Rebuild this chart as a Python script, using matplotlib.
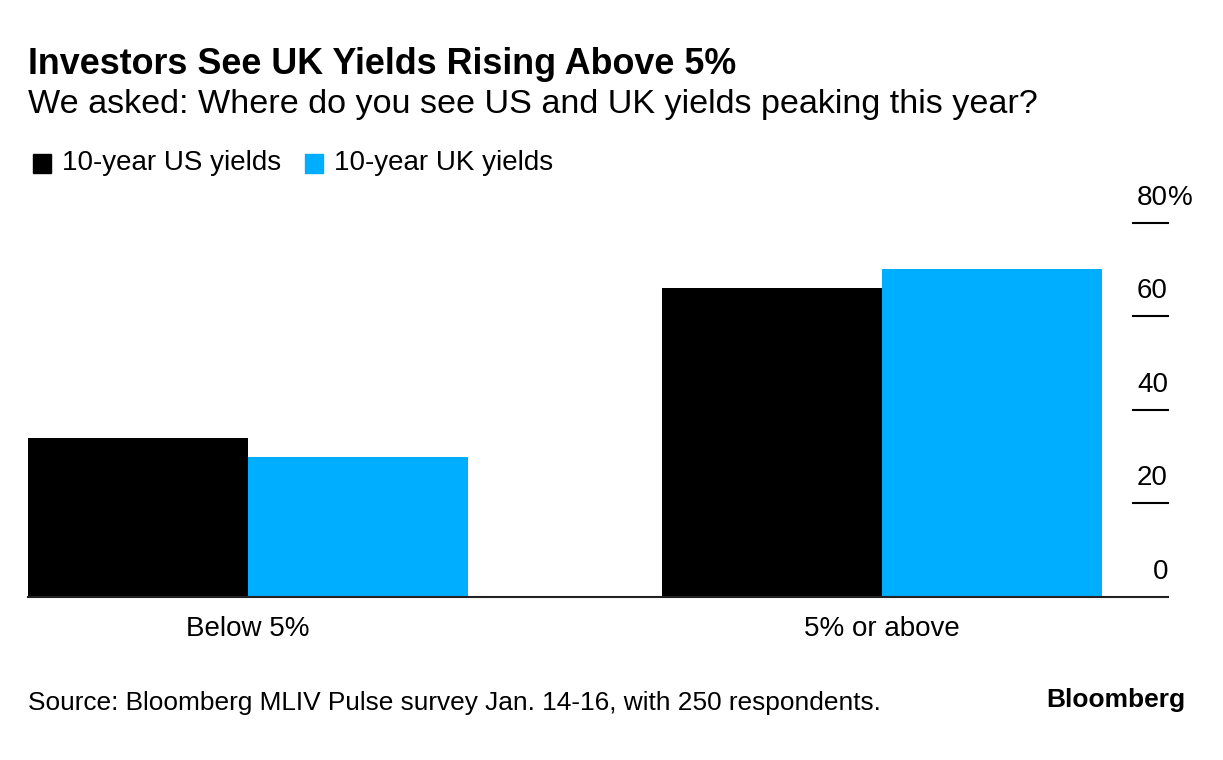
import matplotlib

matplotlib.use("Agg")
import matplotlib.pyplot as plt
import numpy as np

plt.rcParams["font.family"] = ["Liberation Sans", "DejaVu Sans"]

categories = ["Below 5%", "5% or above"]
us_yields = [34, 66]
uk_yields = [30, 70]
series_names = ["10-year US yields", "10-year UK yields"]
yticks = [0, 20, 40, 60, 80]

BLACK = "#000000"
BLUE = "#00aeff"

W, H = 1223, 760
fig = plt.figure(figsize=(W / 100, H / 100), dpi=100)
ax = fig.add_axes([28 / W, 1 - 597 / H, (1168 - 28) / W, (597 - 222.7) / H])

x = np.arange(len(categories))
w = 0.347
ax.bar(x - w / 2, us_yields, w, color=BLACK, label=series_names[0])
ax.bar(x + w / 2, uk_yields, w, color=BLUE, label=series_names[1])
ax.set_xlim(-w, 1.451)
ax.set_ylim(0, 80)

for s in ["top", "left", "right"]:
    ax.spines[s].set_visible(False)
ax.spines["bottom"].set_color("#222222")
ax.spines["bottom"].set_linewidth(1.5)
ax.set_yticks([])
ax.set_xticks(x)
ax.set_xticklabels(categories, fontsize=20)
ax.tick_params(axis="x", length=0, pad=14)

# short right-hand tick marks with labels sitting above them
tr = ax.get_yaxis_transform()
x0 = (1133 - 28) / (1168 - 28)
for t in yticks:
    if t > 0:
        ax.plot([x0, 1.0], [t, t], color=BLACK, lw=1.5, transform=tr, clip_on=False)
    ax.annotate(f"{t}", (1.0, t), xycoords=tr, xytext=(0, 13), textcoords="offset points",
                ha="right", va="baseline", fontsize=20, annotation_clip=False)
    if t == yticks[-1]:
        ax.annotate("%", (1.0, t), xycoords=tr, xytext=(0, 13), textcoords="offset points",
                    ha="left", va="baseline", fontsize=20, annotation_clip=False)

fig.text(28 / W, 1 - 64 / H, "Investors See UK Yields Rising Above 5%", fontsize=25.8,
         fontweight="bold", va="center", ha="left")
fig.text(28 / W, 1 - 105 / H, "We asked: Where do you see US and UK yields peaking this year?",
         fontsize=24.6, va="center", ha="left")

# legend
for i, (name, col) in enumerate(zip(series_names, [BLACK, BLUE])):
    lx = [33, 305][i]
    fig.patches.append(plt.Rectangle((lx / W, 1 - 173 / H), 18 / W, 19 / H, color=col,
                                     transform=fig.transFigure, figure=fig))
    fig.text((lx + 29) / W, 1 - 163 / H, name, fontsize=20, va="center", ha="left")

fig.text(28 / W, 1 - 703 / H, "Source: Bloomberg MLIV Pulse survey Jan. 14-16, with 250 respondents.",
         fontsize=18.9, va="center", ha="left")
fig.text(1185 / W, 1 - 700 / H, "Bloomberg", fontsize=19, fontweight="bold",
         va="center", ha="right")

fig.savefig("out.png", dpi=100, facecolor="white")
